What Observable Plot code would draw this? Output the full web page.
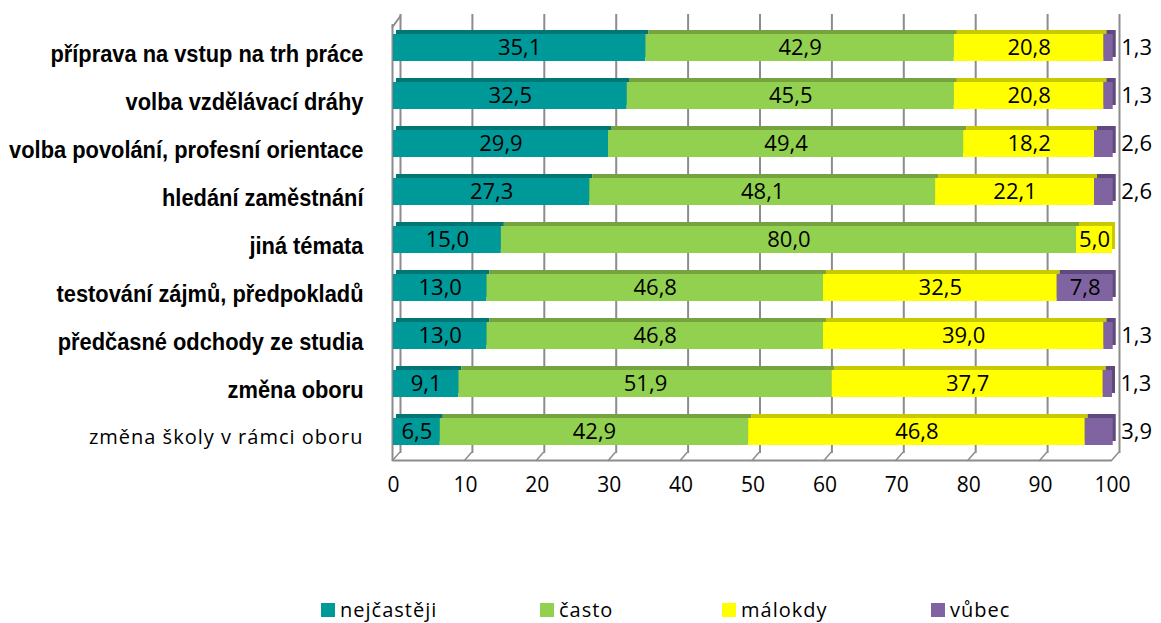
<!DOCTYPE html>
<html>
<head>
<meta charset="utf-8">
<script src="https://cdn.jsdelivr.net/npm/d3@7"></script>
<script src="https://cdn.jsdelivr.net/npm/@observablehq/plot@0.6"></script>
<style>
  body { margin: 0; background: #fff; position: relative; width: 1161px; height: 623px; overflow: hidden; }
  #chart svg { overflow: visible; }
  #legend { position: absolute; left: 0; top: 596px; width: 1161px; height: 27px; font-family: "Open Sans", sans-serif; font-size: 20px; letter-spacing: 1px; color: #000; }
  .item { position: absolute; top: 0; display: flex; align-items: center; height: 27px; }
  .sw { width: 14px; height: 14px; margin-right: 5px; }
</style>
</head>
<body>
<div id="chart"></div>
<div id="legend"></div>
<script>
const categories = [
  "příprava na vstup na trh práce",
  "volba vzdělávací dráhy",
  "volba povolání, profesní orientace",
  "hledání zaměstnání",
  "jiná témata",
  "testování zájmů, předpokladů",
  "předčasné odchody ze studia",
  "změna oboru",
  "změna školy v rámci oboru"
];
const series = ["nejčastěji", "často", "málokdy", "vůbec"];
const nejcasteji = [35.1, 32.5, 29.9, 27.3, 15.0, 13.0, 13.0, 9.1, 6.5];
const casto      = [42.9, 45.5, 49.4, 48.1, 80.0, 46.8, 46.8, 51.9, 42.9];
const malokdy    = [20.8, 20.8, 18.2, 22.1, 5.0, 32.5, 39.0, 37.7, 46.8];
const vubec      = [1.3, 1.3, 2.6, 2.6, 0, 7.8, 1.3, 1.3, 3.9];
const xTicks = [0, 10, 20, 30, 40, 50, 60, 70, 80, 90, 100];

const colors = ["#009999", "#92d050", "#ffff00", "#8064a2"];
const sideColors = ["#007676", "#77a33e", "#c9c900", "#5e4a7d"];

const seriesValues = [nejcasteji, casto, malokdy, vubec];
const data = categories.flatMap((cat, i) =>
  series.map((s, j) => ({cat, series: s, value: seriesValues[j][i], side: sideColors[j]}))
);

const fmt = v => d3.format(".1f")(v).replace(".", ",");
const boldCats = categories.slice(0, categories.length - 1);
const lastCat = categories[categories.length - 1];
const firstCat = categories[0];
const isOutside = d => d.series === "vůbec" && d.value > 0 && d.value < 5;

const lineShape = {draw(context, l) { context.moveTo(0, 0); context.lineTo(0, -l); }};
const gridColor = "#8c8c8c";

const chart = Plot.plot({
  width: 1161,
  height: 500,
  marginLeft: 393,
  marginRight: 49,
  marginTop: 11,
  marginBottom: 32,
  style: {background: "#fff", color: "#000"},
  x: {domain: [0, 100], label: null},
  y: {domain: categories, padding: 0.44, label: null, axis: null},
  color: {domain: series, range: colors},
  marks: [
    // back wall gridlines
    Plot.ruleX(xTicks, {dx: 7, insetTop: 3, insetBottom: 15, stroke: gridColor, strokeWidth: 2}),
    // left wall front edge
    Plot.ruleX([0], {dx: -1, insetTop: 13, insetBottom: 7, stroke: gridColor, strokeWidth: 2}),
    // left wall top slant
    Plot.vector([0], {x: d => d, y: () => firstCat, dx: -1, dy: -21, length: 13.6, rotate: 36, anchor: "start", shape: lineShape, stroke: gridColor, strokeWidth: 2}),
    // floor front edge
    Plot.link([0], {x1: () => 0, x2: () => 100, y1: () => lastCat, y2: () => lastCat, dx: -1, dy: 28.5, stroke: gridColor, strokeWidth: 2}),
    // floor ticks
    Plot.vector(xTicks, {x: d => d, y: () => lastCat, dx: -1, dy: 28.5, length: 10.6, rotate: 41, anchor: "start", shape: lineShape, stroke: gridColor, strokeWidth: 1.5}),
    // 3D top/side faces
    Plot.barX(data, Plot.stackX({x: "value", y: "cat", z: "series", order: series, fill: "side", dx: 3, dy: -4})),
    // front faces
    Plot.barX(data, Plot.stackX({x: "value", y: "cat", fill: "series", order: series})),
    // labels inside
    Plot.text(data, Plot.stackX({
      x: "value", y: "cat", z: "series", order: series,
      text: d => (d.value > 0 && !isOutside(d)) ? fmt(d.value) : null,
      fontFamily: "Open Sans", fontSize: 22, fill: "#000"
    })),
    // labels outside
    Plot.text(data, Plot.stackX2({
      x: "value", y: "cat", z: "series", order: series,
      text: d => isOutside(d) ? fmt(d.value) : null, textAnchor: "start", dx: 8,
      fontFamily: "Open Sans", fontSize: 22, fill: "#000"
    })),
    Plot.axisX({ticks: xTicks, tickSize: 0, tickPadding: 9, fontSize: 21, fontFamily: "Open Sans", tickFormat: d => String(d), fill: "#000"}),
    Plot.axisY({ticks: boldCats, tickSize: 0, tickPadding: 30, dy: 6, fontSize: 24, fontWeight: "bold", fontFamily: "Liberation Sans, Arial, sans-serif", fill: "#000"}),
    Plot.axisY({ticks: [lastCat], tickSize: 0, tickPadding: 30, dy: 6, fontSize: 20, fontFamily: "Open Sans", fill: "#000"})
  ]
});
document.getElementById("chart").appendChild(chart);

// condense the bold category labels horizontally (Excel-like narrow bold face)
d3.select(chart).selectAll("text")
  .filter(function() { return boldCats.includes(this.textContent); })
  .each(function() {
    const w = this.getComputedTextLength();
    if (w > 0) {
      this.setAttribute("textLength", (w * 0.91).toFixed(1));
      this.setAttribute("lengthAdjust", "spacingAndGlyphs");
    }
  });
d3.select(chart).selectAll("text")
  .filter(function() { return this.textContent === lastCat; })
  .style("letter-spacing", "1px");

// legend
const legendLeft = [321, 540, 722, 931];
const legend = document.getElementById("legend");
series.forEach((s, i) => {
  const it = document.createElement("div");
  it.className = "item";
  it.style.left = legendLeft[i] + "px";
  const sw = document.createElement("div");
  sw.className = "sw";
  sw.style.background = colors[i];
  const t = document.createElement("span");
  t.textContent = s;
  it.appendChild(sw);
  it.appendChild(t);
  legend.appendChild(it);
});
</script>
</body>
</html>
